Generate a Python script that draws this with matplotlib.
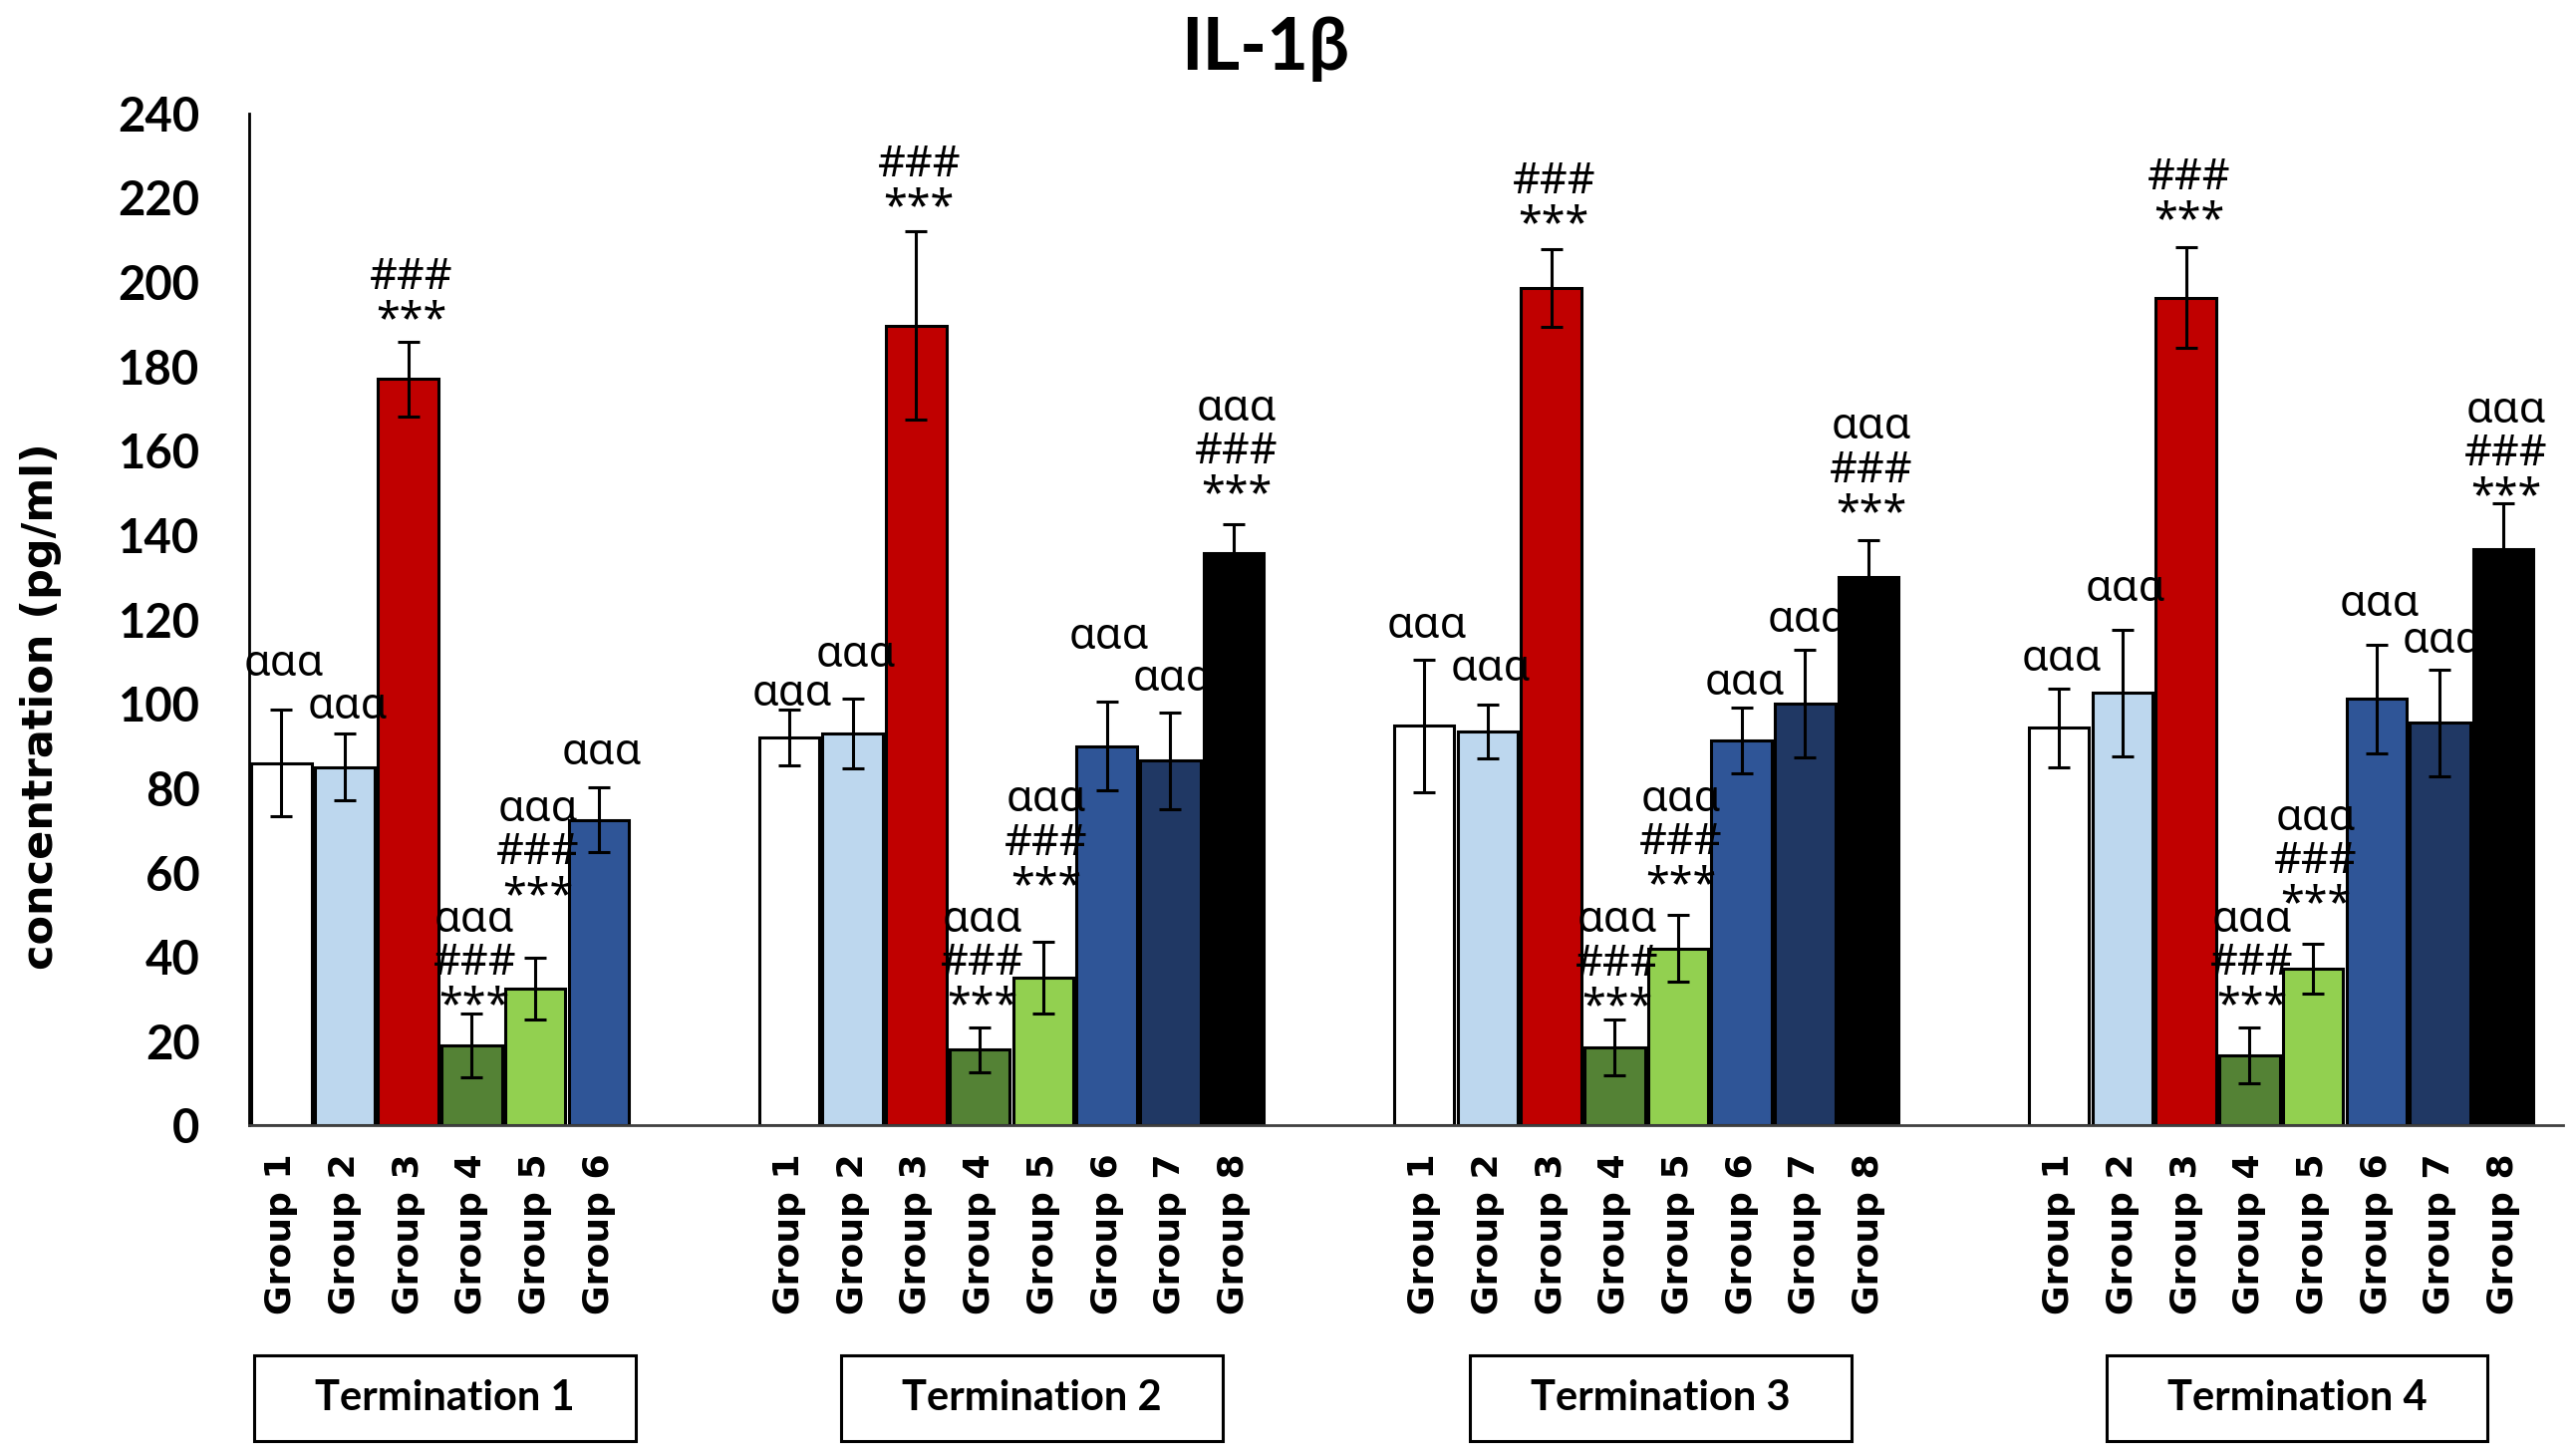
import matplotlib
matplotlib.use("Agg")
import matplotlib.pyplot as plt
from matplotlib.patches import Rectangle

# ---------------------------------------------------------------------------
# Data (IL-1beta, pg/ml, mean +/- error)
# ---------------------------------------------------------------------------
terminations = ["Termination 1", "Termination 2", "Termination 3", "Termination 4"]
groups = ["Group 1", "Group 2", "Group 3", "Group 4", "Group 5", "Group 6", "Group 7", "Group 8"]

t1_mean = [86.0, 85.0, 177.0, 19.0, 32.5, 72.5]
t1_err = [12.6, 7.9, 8.9, 7.5, 7.4, 7.7]

t2_mean = [92.0, 93.0, 189.7, 18.0, 35.0, 90.0, 86.5, 135.7]
t2_err = [6.6, 8.3, 22.3, 5.3, 8.5, 10.6, 11.4, 6.8]

t3_mean = [94.8, 93.5, 198.6, 18.5, 42.0, 91.4, 100.0, 130.0]
t3_err = [15.7, 6.4, 9.3, 6.6, 7.9, 7.8, 12.8, 8.8]

t4_mean = [94.3, 102.6, 196.3, 16.6, 37.2, 101.2, 95.5, 136.6]
t4_err = [9.4, 15.0, 11.9, 6.6, 5.9, 12.9, 12.7, 11.0]

t1_marks = ["ααα", "ααα", "###\n***", "ααα\n###\n***", "ααα\n###\n***", "ααα"]
t2_marks = ["ααα", "ααα", "###\n***", "ααα\n###\n***", "ααα\n###\n***", "ααα", "ααα", "ααα\n###\n***"]
t3_marks = ["ααα", "ααα", "###\n***", "ααα\n###\n***", "ααα\n###\n***", "ααα", "ααα", "ααα\n###\n***"]
t4_marks = ["ααα", "ααα", "###\n***", "ααα\n###\n***", "ααα\n###\n***", "ααα", "ααα", "ααα\n###\n***"]

group_colors = ["#FFFFFF", "#BDD7EE", "#C00000", "#548235", "#92D050", "#2F5597", "#203864", "#000000"]

means = [t1_mean, t2_mean, t3_mean, t4_mean]
errs = [t1_err, t2_err, t3_err, t4_err]
marks = [t1_marks, t2_marks, t3_marks, t4_marks]

# layout: extra lift (points) of each significance label, as placed in the original
t1_lift = [14, 0, -4, -14, 25, 6]
t2_lift = [-8, 12, -2, -4, 21, 27, 5, 2]
t3_lift = [5, 6, -2, -10, 2, -2, 2, 0]
t4_lift = [2, 10, 0, -4, 9, 10, 1, -15]
lifts = [t1_lift, t2_lift, t3_lift, t4_lift]

# small horizontal nudge of each termination box (in bar slots)
box_shift = [0.08, 0.32, 0.23, 0.25]

# ---------------------------------------------------------------------------
# Figure
# ---------------------------------------------------------------------------
fig = plt.figure(figsize=(25.85, 14.61), dpi=100)
ax = fig.add_axes([0.0969, 0.2269, 0.8981, 0.6952])

annot_font = ["Noto Sans", "DejaVu Sans"]

tick_pos = []
tick_lab = []
centers = []
start = 0
for vals, ers, mk, lf in zip(means, errs, marks, lifts):
    xs = [start + i for i in range(len(vals))]
    ax.bar(xs, vals, width=0.95, color=group_colors[:len(vals)],
           edgecolor="black", linewidth=2.2, zorder=2)
    ax.errorbar(xs, vals, yerr=ers, fmt="none", ecolor="black",
                elinewidth=2.2, capsize=8, capthick=2.2, zorder=3)
    for x, v, e, m, up in zip(xs, vals, ers, mk, lf):
        ax.annotate(m, (x, v + e), xytext=(2, 3 + up), textcoords="offset points",
                    ha="center", va="bottom", fontsize=31, linespacing=0.98,
                    family=annot_font, zorder=4)
    tick_pos += xs
    tick_lab += groups[:len(vals)]
    centers.append(sum(xs) / len(xs))
    start += len(vals) + 2

ax.set_xlim(-0.5, 35.94)
ax.set_ylim(0, 240)
ax.set_yticks(range(0, 241, 20))
ax.set_xticks(tick_pos)
ax.set_xticklabels(tick_lab, rotation=90, fontsize=26, fontweight="bold",
                   family="DejaVu Sans", va="top")
ax.tick_params(axis="x", length=0, pad=20)
ax.tick_params(axis="y", length=0, pad=36)
for lab in ax.get_yticklabels():
    lab.set_fontsize(34)
    lab.set_fontweight("bold")
    lab.set_family("Lato")

ax.spines["top"].set_visible(False)
ax.spines["right"].set_visible(False)
ax.spines["left"].set_linewidth(2)
ax.spines["bottom"].set_linewidth(2)
ax.spines["bottom"].set_color("#404040")

fig.text(0.491, 0.966, "IL-1β", ha="center", va="center", fontsize=52,
         fontweight="bold", family=["Lato", "DejaVu Sans"])
fig.text(0.016, 0.515, "concentration (pg/ml)", rotation=90, ha="center",
         va="center", fontsize=31, fontweight="bold", family="DejaVu Sans")

# termination label boxes under each block
box_w = 0.148
box_h = 0.0587
for name, c, sh in zip(terminations, centers, box_shift):
    xfig = fig.transFigure.inverted().transform(ax.transData.transform((c + sh, 0)))[0]
    fig.patches.append(Rectangle((xfig - box_w / 2, 0.0102), box_w, box_h,
                                 transform=fig.transFigure, fill=False,
                                 edgecolor="black", linewidth=2.2))
    fig.text(xfig, 0.0102 + box_h / 2, name, ha="center", va="center",
             fontsize=30, fontweight="bold", family="Lato")

fig.savefig("out.png", dpi=100)
